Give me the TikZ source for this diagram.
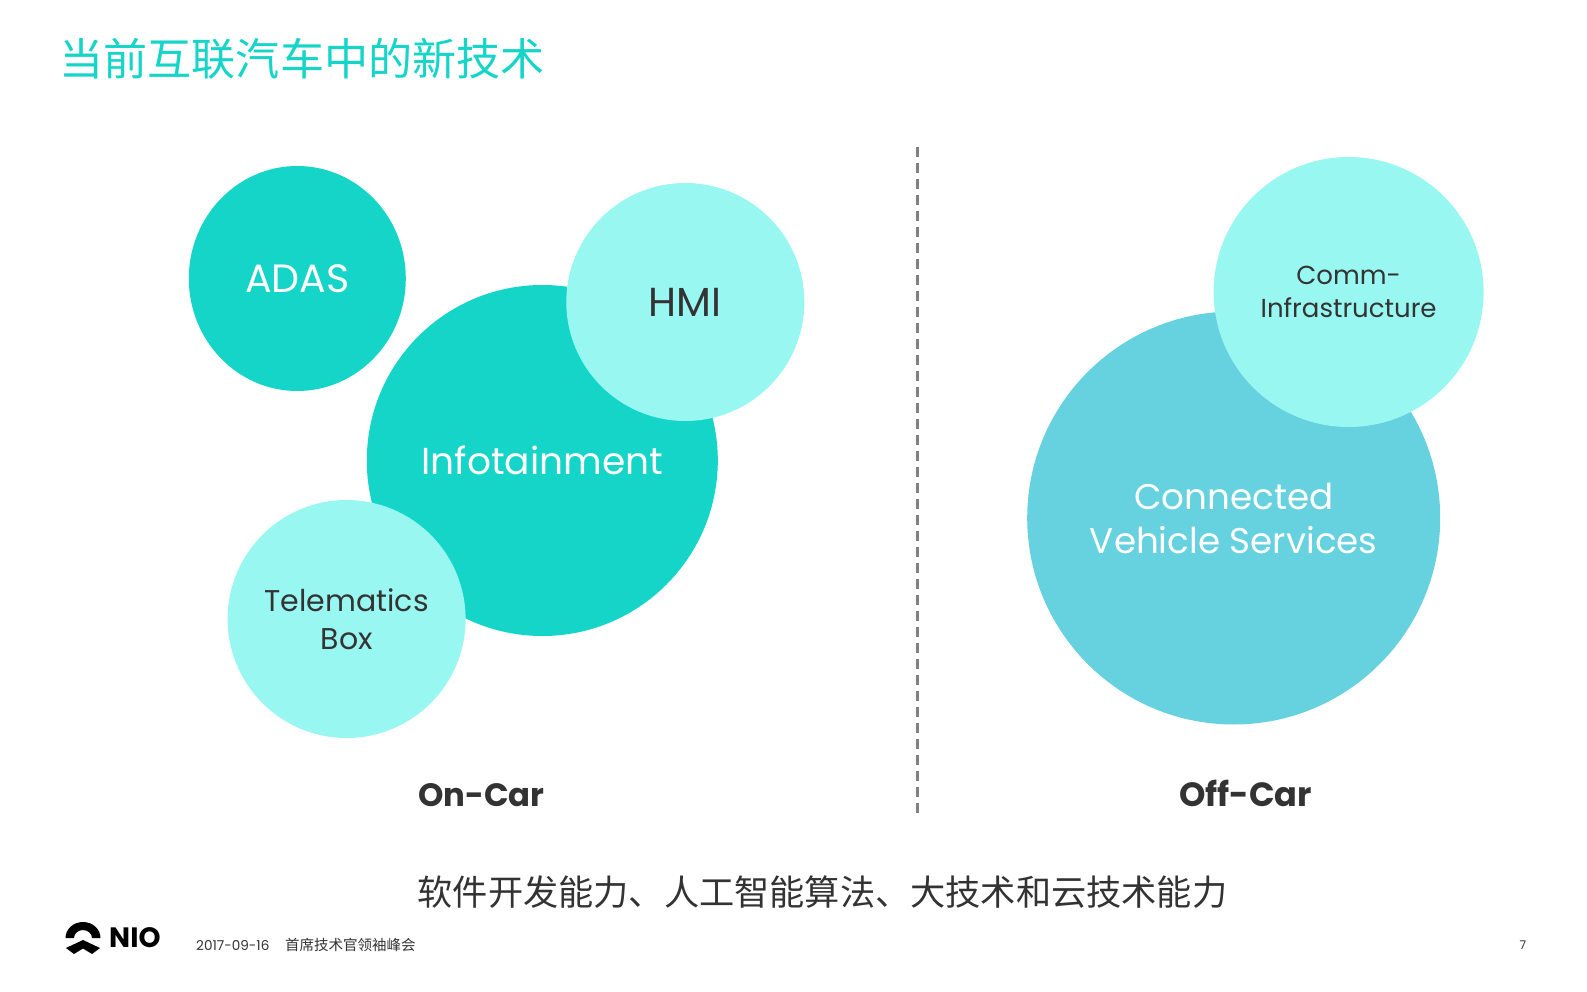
\documentclass[tikz,border=0pt]{standalone}
\usepackage{fontspec}
\setmainfont{Poppins}
\newfontfamily\cjk{Noto Sans CJK SC}
\usetikzlibrary{shapes.geometric}
\definecolor{nioteal}{HTML}{15D4C8}
\definecolor{niomint}{HTML}{99F7F1}
\definecolor{nioblue}{HTML}{66D1DF}
\definecolor{niodark}{HTML}{333333}
\tikzset{
  bubble/.style={circle,inner sep=0pt,align=center},
  white label/.style={text=white},
  dark label/.style={text=niodark},
}
\begin{document}
\begin{tikzpicture}[x=1pt,y=-1pt]
    \useasboundingbox (0,0) rectangle (1587,992);

    \node[anchor=west,text=nioteal,font=\cjk\fontsize{44.1}{50}\selectfont] (TITLE) at (56,59) {当前互联汽车中的新技术};

    \node[bubble,fill=nioteal,white label,minimum size=351pt,font=\fontsize{37.5}{44}\selectfont] (INFO) at (542.3,460.5) {Infotainment};
    \node[ellipse,inner sep=0pt,fill=nioteal,white label,minimum width=217pt,minimum height=225pt,font=\fontsize{39.5}{44}\selectfont] (ADAS) at (297.3,278.5) {ADAS};
    \node[bubble,fill=niomint,dark label,minimum size=238pt,font=\fontsize{40.5}{44}\selectfont] (HMI) at (685.3,302) {HMI};
    \node[bubble,fill=niomint,dark label,minimum size=238pt,font=\fontsize{30}{38}\selectfont] (TBOX) at (346.6,619) {Telematics\\Box};

    \node[bubble,fill=nioblue,white label,minimum size=413pt,font=\fontsize{35.7}{44}\selectfont] (CVS) at (1233.7,518) {Connected\\Vehicle Services};
    \node[bubble,fill=niomint,dark label,minimum size=270pt,font=\fontsize{26}{33}\selectfont] (COMM) at (1348.6,292) {Comm-\\Infrastructure};

    \coordinate (TOP) at (917,147);
    \coordinate (BOT) at (917,814);
    \draw[gray,line width=3pt,dash pattern=on 10pt off 6pt] (TOP) -- (BOT);

    \node[anchor=base,text=niodark,font=\bfseries\fontsize{32.3}{40}\selectfont] (ONCAR) at (481.5,806) {On-Car};
    \node[anchor=base,text=niodark,font=\bfseries\fontsize{33.6}{40}\selectfont] (OFFCAR) at (1245.5,806) {Off-Car};

    \node[text=niodark,font=\cjk\fontsize{35.2}{40}\selectfont] (SKILLS) at (822.5,892) {软件开发能力、人工智能算法、大技术和云技术能力};

    % logo
    \fill[black] (65.5,938) arc[start angle=180,end angle=360,x radius=17.5,y radius=16] -- (92,938) arc[start angle=360,end angle=180,x radius=9,y radius=8] -- cycle;
    \fill[black] (83,940) -- (100,948) -- (92,954) -- (83,948.5) -- (74,954) -- (66,948) -- cycle;
    \node[anchor=west,text=black,font=\bfseries\fontsize{28}{30}\selectfont,inner sep=0pt] (NIO) at (109,938) {NIO};

    \node[anchor=west,text=niodark,inner sep=0pt,font=\fontsize{13.6}{16}\selectfont] (DATE) at (196,945) {2017-09-16};
    \node[anchor=west,text=niodark,inner sep=0pt,font=\cjk\fontsize{14.5}{16}\selectfont] (EVENT) at (285,945) {首席技术官领袖峰会};
    \node[text=niodark,inner sep=0pt,font=\fontsize{12}{16}\selectfont] (PAGE) at (1523,945) {7};
  \end{tikzpicture}
\end{document}
